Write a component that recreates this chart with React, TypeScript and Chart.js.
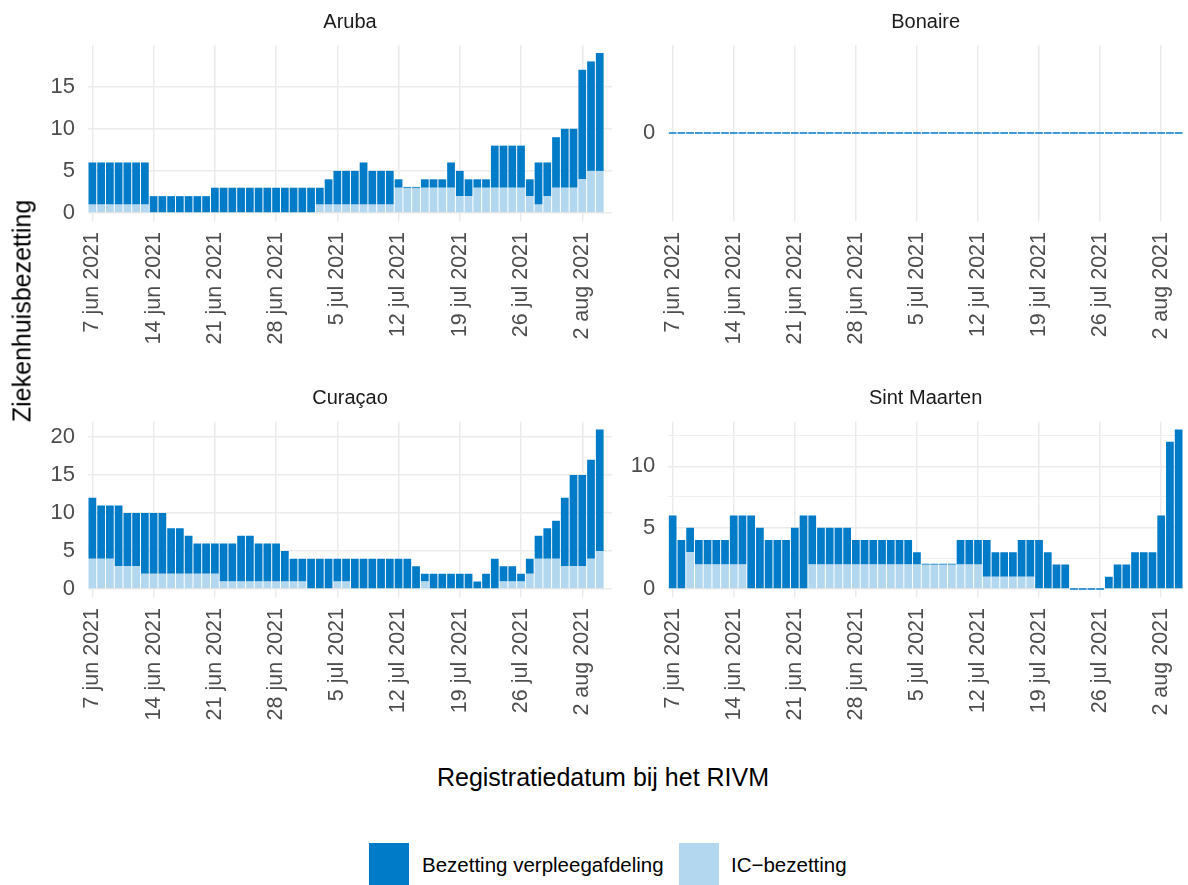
import React, { useEffect, useRef } from 'react';
import { Chart, registerables } from 'chart.js';

Chart.register(...registerables);

const FONT = '"Liberation Sans", Arial, Helvetica, sans-serif';
const DARK = '#007BC7';
const LIGHT = '#B2D7EE';
const GRID = '#EBEBEB';
const TICK_COLOR = '#4D4D4D';

// Days since 7 jun 2021 (index 0) up to 4 aug 2021 (index 58)
const dayIndex = [
  0, 1, 2, 3, 4, 5, 6, 7, 8, 9, 10, 11, 12, 13, 14, 15, 16, 17, 18, 19,
  20, 21, 22, 23, 24, 25, 26, 27, 28, 29, 30, 31, 32, 33, 34, 35, 36, 37, 38, 39,
  40, 41, 42, 43, 44, 45, 46, 47, 48, 49, 50, 51, 52, 53, 54, 55, 56, 57, 58,
];
const tickDays = [0, 7, 14, 21, 28, 35, 42, 49, 56];
const tickLabels = [
  '7 jun 2021', '14 jun 2021', '21 jun 2021', '28 jun 2021', '5 jul 2021',
  '12 jul 2021', '19 jul 2021', '26 jul 2021', '2 aug 2021',
];

const arubaWard = [
  5, 5, 5, 5, 5, 5, 5, 2, 2, 2, 2, 2, 2, 2, 3, 3, 3, 3, 3, 3,
  3, 3, 3, 3, 3, 3, 2, 3, 4, 4, 4, 5, 4, 4, 4, 1, 0, 0, 1, 1,
  1, 3, 3, 2, 1, 1, 5, 5, 5, 5, 2, 5, 4, 6, 7, 7, 13, 13, 14,
];
const arubaIC = [
  1, 1, 1, 1, 1, 1, 1, 0, 0, 0, 0, 0, 0, 0, 0, 0, 0, 0, 0, 0,
  0, 0, 0, 0, 0, 0, 1, 1, 1, 1, 1, 1, 1, 1, 1, 3, 3, 3, 3, 3,
  3, 3, 2, 2, 3, 3, 3, 3, 3, 3, 2, 1, 2, 3, 3, 3, 4, 5, 5,
];
const bonaireWard = [
  0, 0, 0, 0, 0, 0, 0, 0, 0, 0, 0, 0, 0, 0, 0, 0, 0, 0, 0, 0,
  0, 0, 0, 0, 0, 0, 0, 0, 0, 0, 0, 0, 0, 0, 0, 0, 0, 0, 0, 0,
  0, 0, 0, 0, 0, 0, 0, 0, 0, 0, 0, 0, 0, 0, 0, 0, 0, 0, 0,
];
const bonaireIC = [
  0, 0, 0, 0, 0, 0, 0, 0, 0, 0, 0, 0, 0, 0, 0, 0, 0, 0, 0, 0,
  0, 0, 0, 0, 0, 0, 0, 0, 0, 0, 0, 0, 0, 0, 0, 0, 0, 0, 0, 0,
  0, 0, 0, 0, 0, 0, 0, 0, 0, 0, 0, 0, 0, 0, 0, 0, 0, 0, 0,
];
const curacaoWard = [
  8, 7, 7, 8, 7, 7, 8, 8, 8, 6, 6, 5, 4, 4, 4, 5, 5, 6, 6, 5,
  5, 5, 4, 3, 3, 4, 4, 4, 3, 3, 4, 4, 4, 4, 4, 4, 4, 3, 1, 2,
  2, 2, 2, 2, 1, 2, 4, 2, 2, 1, 2, 3, 4, 5, 9, 12, 12, 13, 16,
];
const curacaoIC = [
  4, 4, 4, 3, 3, 3, 2, 2, 2, 2, 2, 2, 2, 2, 2, 1, 1, 1, 1, 1,
  1, 1, 1, 1, 1, 0, 0, 0, 1, 1, 0, 0, 0, 0, 0, 0, 0, 0, 1, 0,
  0, 0, 0, 0, 0, 0, 0, 1, 1, 1, 2, 4, 4, 4, 3, 3, 3, 4, 5,
];
const sintMaartenWard = [
  6, 4, 2, 2, 2, 2, 2, 4, 4, 6, 5, 4, 4, 4, 5, 6, 4, 3, 3, 3,
  3, 2, 2, 2, 2, 2, 2, 2, 1, 0, 0, 0, 0, 2, 2, 2, 3, 2, 2, 2,
  3, 3, 4, 3, 2, 2, 0, 0, 0, 0, 1, 2, 2, 3, 3, 3, 6, 12, 13,
];
const sintMaartenIC = [
  0, 0, 3, 2, 2, 2, 2, 2, 2, 0, 0, 0, 0, 0, 0, 0, 2, 2, 2, 2,
  2, 2, 2, 2, 2, 2, 2, 2, 2, 2, 2, 2, 2, 2, 2, 2, 1, 1, 1, 1,
  1, 1, 0, 0, 0, 0, 0, 0, 0, 0, 0, 0, 0, 0, 0, 0, 0, 0, 0,
];

const wardLabel = 'Bezetting verpleegafdeling';
const icLabel = 'IC\u2212bezetting';

type PanelSpec = {
  name: string;
  ward: number[];
  ic: number[];
  left: number;
  top: number;
  width: number;
  height: number;
  yAxisW: number;
  padRight: number;
  padTop: number;
  xAxisH: number;
  xMax: number;
};

const panels: PanelSpec[] = [
  { name: 'Aruba', ward: arubaWard, ic: arubaIC, left: 0, top: 0, width: 640, height: 365, yAxisW: 88, padRight: 28, padTop: 45, xAxisH: 144, xMax: 59.4 },
  { name: 'Bonaire', ward: bonaireWard, ic: bonaireIC, left: 612, top: 0, width: 576, height: 365, yAxisW: 56.3, padRight: 5, padTop: 45, xAxisH: 144, xMax: 58.5 },
  { name: 'Cura\u00e7ao', ward: curacaoWard, ic: curacaoIC, left: 0, top: 365, width: 640, height: 385, yAxisW: 88, padRight: 28, padTop: 56.5, xAxisH: 153, xMax: 59.4 },
  { name: 'Sint Maarten', ward: sintMaartenWard, ic: sintMaartenIC, left: 612, top: 365, width: 576, height: 385, yAxisW: 56.3, padRight: 5, padTop: 56.5, xAxisH: 153, xMax: 58.5 },
];

const stripPlugin = {
  id: 'strip',
  afterDraw(chart: any, _args: any, opts: any) {
    const { ctx, chartArea } = chart;
    ctx.save();
    ctx.font = `${opts.size}px ${FONT}`;
    ctx.fillStyle = '#1A1A1A';
    ctx.textAlign = 'center';
    ctx.textBaseline = 'middle';
    ctx.fillText(opts.text, (chartArea.left + chartArea.right) / 2, chartArea.top - opts.offset);
    ctx.restore();
  },
};

function Panel({ p }: { p: PanelSpec }) {
  const ref = useRef<HTMLCanvasElement>(null);
  useEffect(() => {
    const totals = p.ward.map((w, i) => w + p.ic[i]);
    const dataMax = Math.max(...totals);
    const allZero = dataMax === 0;
    const yMin = allZero ? -1 : -0.05 * dataMax;
    const yMax = allZero ? 1 : dataMax * 1.05;
    const chart = new Chart(ref.current as HTMLCanvasElement, {
      type: 'bar',
      data: {
        datasets: [
          {
            label: icLabel,
            data: dayIndex.map((d, i) => ({ x: d, y: p.ic[i] })),
            backgroundColor: LIGHT,
            barPercentage: 0.885,
            categoryPercentage: 1,
          },
          {
            label: wardLabel,
            data: dayIndex.map((d, i) => ({ x: d, y: p.ward[i] })),
            backgroundColor: DARK,
            barPercentage: 0.885,
            categoryPercentage: 1,
            minBarLength: 1.6,
          },
        ],
      } as any,
      options: {
        responsive: false,
        animation: false,
        events: [],
        layout: { padding: { left: 0, right: p.padRight, top: p.padTop, bottom: 0 }, autoPadding: false },
        plugins: {
          legend: { display: false },
          tooltip: { enabled: false },
          strip: { text: p.name, size: 20, offset: 23 },
        } as any,
        scales: {
          x: {
            type: 'linear',
            min: -0.5,
            max: p.xMax,
            stacked: true,
            offset: false,
            border: { display: false },
            grid: { color: GRID, lineWidth: 1.5, drawTicks: false, offset: false },
            ticks: {
              autoSkip: false,
              maxRotation: 90,
              minRotation: 90,
              padding: 11,
              color: TICK_COLOR,
              font: { family: FONT, size: 21.5 },
              callback: (v: any) => {
                const k = tickDays.indexOf(Number(v));
                return k >= 0 ? tickLabels[k] : null;
              },
            },
            afterBuildTicks: (s: any) => {
              s.ticks = tickDays.map((v) => ({ value: v }));
            },
            afterFit: (s: any) => {
              s.height = p.xAxisH;
              s.paddingLeft = 0;
              s.paddingRight = 0;
            },
          },
          y: {
            type: 'linear',
            min: yMin,
            max: yMax,
            stacked: true,
            border: { display: false },
            grid: {
              display: !allZero,
              color: GRID,
              drawTicks: false,
              lineWidth: (ctx: any) => (ctx.tick && ctx.tick.value % 5 === 0 ? 1.5 : 0.8),
            },
            ticks: {
              padding: 13,
              color: TICK_COLOR,
              font: { family: FONT, size: 22 },
              callback: (v: any) => (Number(v) % 5 === 0 ? String(v) : ''),
            },
            afterBuildTicks: (s: any) => {
              if (allZero) {
                s.ticks = [{ value: 0 }];
                return;
              }
              const t: any[] = [];
              for (let v = 0; v <= yMax; v += 2.5) t.push({ value: v });
              s.ticks = t;
            },
            afterFit: (s: any) => {
              s.width = p.yAxisW;
              s.paddingTop = 0;
              s.paddingBottom = 0;
            },
          },
        },
      } as any,
      plugins: [stripPlugin as any],
    });
    return () => chart.destroy();
  }, [p]);
  return (
    <canvas
      ref={ref}
      width={p.width}
      height={p.height}
      style={{ position: 'absolute', left: p.left, top: p.top, width: p.width, height: p.height }}
    />
  );
}

export default function App() {
  return (
    <div
      style={{
        position: 'fixed',
        left: 0,
        top: 0,
        width: 1188,
        height: 885,
        background: '#FFFFFF',
        overflow: 'hidden',
        fontFamily: FONT,
      }}
    >
      {panels.map((p) => (
        <Panel key={p.name} p={p} />
      ))}
      <div
        style={{
          position: 'absolute',
          left: 22,
          top: 311,
          transform: 'translate(-50%, -50%) rotate(-90deg)',
          fontSize: 25,
          lineHeight: '25px',
          whiteSpace: 'nowrap',
          color: '#000',
        }}
      >
        Ziekenhuisbezetting
      </div>
      <div
        style={{
          position: 'absolute',
          left: 603,
          top: 777,
          transform: 'translate(-50%, -50%)',
          fontSize: 25,
          lineHeight: '25px',
          whiteSpace: 'nowrap',
          color: '#000',
        }}
      >
        Registratiedatum bij het RIVM
      </div>
      <div style={{ position: 'absolute', left: 369, top: 843, width: 40, height: 42, background: DARK }} />
      <div
        style={{
          position: 'absolute',
          left: 422,
          top: 864,
          transform: 'translateY(-50%)',
          fontSize: 20.5,
          lineHeight: '21px',
          whiteSpace: 'nowrap',
          color: '#000',
        }}
      >
        {wardLabel}
      </div>
      <div style={{ position: 'absolute', left: 679, top: 843, width: 40, height: 42, background: LIGHT }} />
      <div
        style={{
          position: 'absolute',
          left: 731,
          top: 864,
          transform: 'translateY(-50%)',
          fontSize: 20.5,
          lineHeight: '21px',
          whiteSpace: 'nowrap',
          color: '#000',
        }}
      >
        {icLabel}
      </div>
    </div>
  );
}
